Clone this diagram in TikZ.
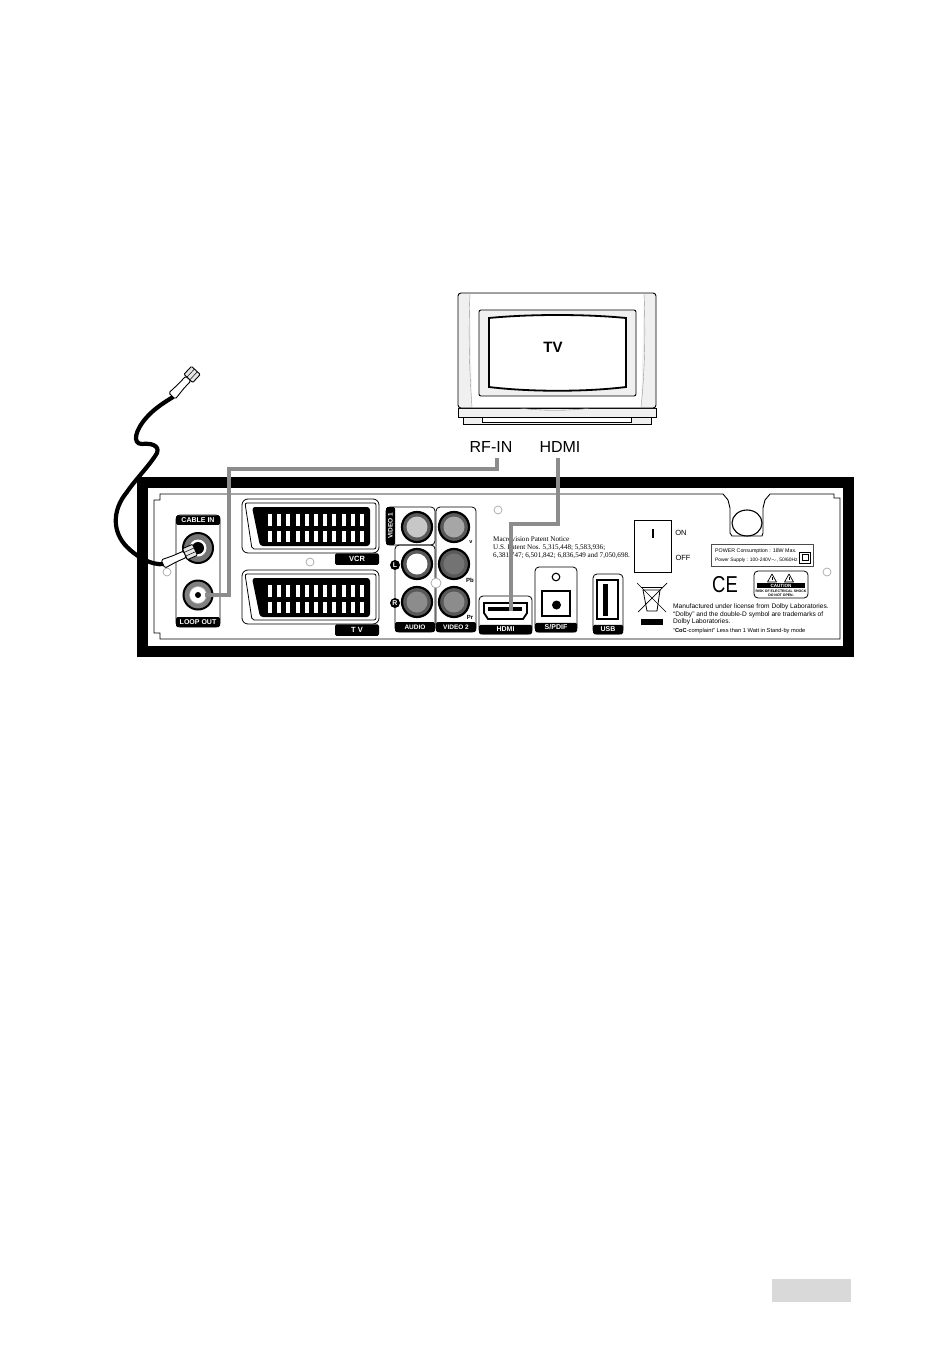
\documentclass[tikz,border=0pt]{standalone}
\usepackage{fontspec}
\setmainfont{Liberation Sans}
\newfontfamily\noteserif{Liberation Serif}
\newcommand{\fsz}[1]{\fontsize{#1}{#1}\selectfont}
\tikzset{
  wire/.style={draw=black!45, line width=3.4pt},
  coax/.style={draw=black, line width=4.2pt, line cap=round},
  tag/.style={fill=black, text=white, inner sep=0pt, rounded corners=1.5pt, font=\bfseries\fsz{7}},
  txt/.style={inner sep=0pt, anchor=west},
  screw/.style={draw=black!35, fill=white, line width=.7pt},
  unit/.style={draw=black, line width=.8pt, rounded corners=4pt},
}
\begin{document}
\begin{tikzpicture}[x=1pt,y=-1pt]
\useasboundingbox (0,0) rectangle (932,1362);
% TV set
\draw[fill=black!6, line width=.9pt, rounded corners=3pt] (458,408) -- (458,293) -- (656,293) -- (656,408) -- cycle;
\fill[white] (470,294) -- (644,294) -- (641,407) -- (472,407) -- cycle;
\draw[black!40, line width=.4pt] (470,294) .. controls (468,340) and (470,380) .. (472,407);
\draw[black!40, line width=.4pt] (644,294) .. controls (646,340) and (644,380) .. (641,407);
\draw[fill=black!6, line width=.9pt, rounded corners=2pt] (479,310) rectangle (636,396);
\draw[fill=white, line width=1.8pt] (489,318) .. controls (530,314) and (585,314) .. (626,318) -- (626,387) .. controls (585,392) and (530,392) .. (489,387) -- cycle;
\node[font=\bfseries\fsz{15}] (tvname) at (553,347) {TV};
\draw[fill=black!6, line width=.9pt] (458,408) rectangle (656,417);
\draw[black!50, line width=.4pt] (458,408) -- (520,408) .. controls (540,411) and (570,411) .. (590,408) -- (656,408);
\draw[fill=black!6, line width=.9pt] (463,417) rectangle (651,424);
\draw[fill=white, line width=.7pt] (482,417) rectangle (631,422);
\node[font=\fsz{16}] (rfin) at (491,447) {RF-IN};
\node[font=\fsz{16}] (hdmiin) at (560,447) {HDMI};
% back panel
\draw[line width=11pt] (142.5,482.5) rectangle (848,651.5);
\draw[line width=.9pt] (160,494) -- (723,494) -- (728,500) -- (730,508) -- (730,533) -- (732,536) -- (762,536) -- (763,533) -- (763,508) -- (765,500) -- (770,494) -- (834,494) -- (834,498) -- (840,498) -- (840,639) -- (160,639) -- (160,633) -- (154,633) -- (154,500) -- (160,500) -- cycle;
\draw[line width=1.1pt] (747,523) ellipse (15 and 13);
\foreach \sx/\sy in {167/572, 310/562, 498/510, 827/572}
  \draw[screw] (\sx,\sy) circle (4);
% antenna block
\draw[unit] (176,515) rectangle (220,627);
\node[tag, minimum width=44pt, minimum height=9.5pt] (cablein) at (198,520) {CABLE IN};
\node[tag, minimum width=44pt, minimum height=10pt] (loopout) at (198,622) {LOOP OUT};
\draw[fill=black!55, line width=2pt] (198,548) circle (15);
\fill[white] (198,548) circle (8.5);
\fill[black] (198,548) circle (6);
\draw[fill=black!50, line width=2pt] (198,595) circle (14.5);
\draw[fill=white, draw=black!30, line width=.6pt] (198,595) circle (8.5);
\fill[black] (198,595) circle (3);
% scarts
\foreach \dy/\name in {0/VCR, 71/T V} {
  \begin{scope}[shift={(0,\dy)}]
    \draw[line width=.8pt, rounded corners=6pt] (379,553) -- (379,499) -- (242,499) -- (242,553) -- cycle;
    \draw[line width=.8pt, rounded corners=2pt] (245,503) -- (376,503) -- (376,549) -- (252,549) -- cycle;
    \fill[black, rounded corners=3pt] (252,507) -- (370,507) -- (370,546) -- (260,546) -- cycle;
    \foreach \i in {0,...,10} {
      \fill[white] (270+9.2*\i-2,514) rectangle +(4,12);
      \fill[white] (270+9.2*\i-2,531) rectangle +(4,11);
    }
    \node[tag, minimum width=44pt, minimum height=11.5pt] (scart\dy) at (357,559) {\fsz{7.5}\name};
  \end{scope}
}
% rca block
\draw[unit] (386,545) -- (386,507) -- (435,507) -- (435,545) -- cycle;
\draw[unit] (395,632) -- (395,545) -- (435,545) -- (435,632) -- cycle;
\draw[unit] (436,632) -- (436,507) -- (476,507) -- (476,632) -- cycle;
\node[tag, minimum width=38pt, minimum height=9pt, rotate=90, font=\bfseries\fsz{6.5}] (videoa) at (390.5,526) {VIDEO 1};
\node[tag, minimum width=40pt, minimum height=10pt, font=\bfseries\fsz{6.5}] (audio) at (415,627) {AUDIO};
\node[tag, minimum width=40pt, minimum height=10pt, font=\bfseries\fsz{6.5}] (videob) at (456,627) {VIDEO 2};
\foreach \cx/\cy/\shade in {417/527/22, 417/564/0, 417/602/45, 454/527/35, 454/564/55, 454/602/45} {
  \draw[fill=black!65, line width=2.2pt] (\cx,\cy) circle (15);
  \fill[black!\shade] (\cx,\cy) circle (10.5);
}
\node[circle, fill=black, text=white, inner sep=0pt, minimum size=10pt, font=\bfseries\fsz{7}] (lft) at (395,565) {L};
\node[circle, fill=black, text=white, inner sep=0pt, minimum size=10pt, font=\bfseries\fsz{7}] (rgt) at (395,603) {R};
\draw[screw] (436,583) circle (5);
\node[font=\bfseries\fsz{5.5}] (vmark) at (471,542) {v};
\node[font=\bfseries\fsz{6}] (pbmark) at (470,580) {Pb};
\node[font=\bfseries\fsz{6}] (prmark) at (470,617) {Pr};
% hdmi, spdif, usb
\draw[unit] (479,634) -- (479,596) -- (532,596) -- (532,634) -- cycle;
\node[tag, minimum width=53pt, minimum height=9.5pt] (hdmitag) at (505.5,629.5) {HDMI};
\draw[line width=1.8pt] (484,603) -- (527,603) -- (527,613) -- (523,619) -- (488,619) -- (484,613) -- cycle;
\fill[black] (488,607) rectangle (522,611);
\draw[unit] (535,632) -- (535,567) -- (577,567) -- (577,632) -- cycle;
\node[tag, minimum width=42pt, minimum height=9.5pt] (spdif) at (556,627.5) {S/PDIF};
\draw[line width=1.1pt] (556,577) circle (3.8);
\draw[line width=1.6pt] (542,591) rectangle (570,616);
\fill[black] (556.5,605) circle (4.5);
\draw[unit] (593,634) -- (593,574) -- (623,574) -- (623,634) -- cycle;
\node[tag, minimum width=30pt, minimum height=9.5pt] (usb) at (608,629.5) {USB};
\draw[line width=1.6pt] (597,580) rectangle (618,619);
\fill[black] (603,584) rectangle (608,616);
% notices
\node[txt, font=\noteserif\fsz{7.1}] (patenta) at (493,539) {Macrovision Patent Notice};
\node[txt, font=\noteserif\fsz{7.1}] (patentb) at (493,547.5) {U.S. Patent Nos. 5,315,448; 5,583,936;};
\node[txt, font=\noteserif\fsz{7.1}] (patentc) at (493,556) {6,381,747; 6,501,842; 6,836,549 and 7,050,698.};
\draw[line width=.9pt] (634.5,520) rectangle (671,572);
\fill[black] (652,529) rectangle (654,538);
\node[font=\fsz{7.5}] (swon) at (681,533) {ON};
\node[font=\fsz{7.5}] (swoff) at (683,558) {OFF};
\draw[black!70, line width=.6pt] (711,544) rectangle (813,566);
\node[txt, font=\fsz{5.3}] (powera) at (715,551) {POWER Consumption : 18W Max.};
\node[txt, font=\fsz{4.9}] (powerb) at (715,560) {Power Supply : 100-240V$\sim$, 50/60Hz};
\draw[line width=.6pt] (799.5,552) rectangle (810.5,563);
\draw[line width=.6pt] (802,554.5) rectangle (808,560.5);
\node[xscale=.8, font=\fsz{23}] (cemark) at (725,585) {CE};
\draw[line width=.8pt, rounded corners=4pt] (754,571) rectangle (808,598);
\foreach \tx in {772,789} {
  \draw[line width=.7pt, line join=round] (\tx-4.5,582) -- (\tx,574) -- (\tx+4.5,582) -- cycle;
  \fill[black] (\tx-.5,576.5) rectangle (\tx+.5,580);
}
\node[tag, rounded corners=0pt, minimum width=48pt, minimum height=5pt, font=\bfseries\fsz{4.6}] (caution) at (781,585.5) {CAUTION};
\node[font=\bfseries\fsz{3.5}, inner sep=0pt] (cautiona) at (781,590.8) {RISK OF ELECTRICAL SHOCK};
\node[font=\bfseries\fsz{3.5}, inner sep=0pt] (cautionb) at (781,594.8) {DO NOT OPEN.};
% crossed bin
\draw[line width=.8pt] (643,590) -- (660,590) -- (657,611) -- (647,611) -- cycle;
\draw[line width=.8pt] (641,587) -- (662,587);
\draw[line width=.7pt] (637,583) -- (666,612);
\draw[line width=.7pt] (667,583) -- (638,612);
\fill[black] (641,619) rectangle (663,625);
\node[txt, font=\fsz{6.6}] (dolbya) at (673,607) {Manufactured under license from Dolby Laboratories.};
\node[txt, font=\fsz{6.6}] (dolbyb) at (673,614.5) {“Dolby” and the double-D symbol are trademarks of};
\node[txt, font=\fsz{6.6}] (dolbyc) at (673,622) {Dolby Laboratories.};
\node[txt, font=\fsz{5.7}] (dolbyd) at (673,631) {“\textbf{CoC}-complaint” Less than 1 Watt in Stand-by mode};
% wires
\coordinate (loopwire) at (205,595);
\coordinate (rfport) at (497,458);
\coordinate (hdmiport) at (558,458);
\coordinate (hdmiplug) at (511,611);
\draw[wire] (loopwire) -- (229,595) -- (229,469) -- (497,469) -- (rfport);
\draw[wire] (hdmiport) -- (558,524) -- (511,524) -- (hdmiplug);
% antenna cable
\coordinate (plugtop) at (173,397);
\coordinate (plugend) at (165,564);
\draw[coax] (plugend) .. controls (150,566) and (135,555) .. (127,547) .. controls (112,532) and (112,510) .. (127,492) .. controls (135,480) and (150,465) .. (157,453) .. controls (160,445) and (150,443) .. (142,444) .. controls (132,444) and (135,430) .. (147,417) .. controls (155,408) and (165,402) .. (plugtop);
\foreach \ox/\oy/\oa in {163/564/24, 172/396/47} {
  \begin{scope}[shift={(\ox,\oy)}, rotate=\oa]
    \draw[fill=white, line width=.9pt, rounded corners=1.5pt] (0,-4.5) -- (13,-3.5) -- (24,-3.5) -- (24,3.5) -- (13,3.5) -- (0,4.5) -- cycle;
    \draw[fill=black!10, line width=.9pt, rounded corners=1pt] (24,-6) -- (35,-6) -- (35,6) -- (24,6) -- cycle;
    \draw[line width=.5pt] (24,-2) -- (35,-2) (24,2) -- (35,2);
  \end{scope}
}
% page mark
\fill[black!15] (772,1279) rectangle (851,1302);
\end{tikzpicture}
\end{document}
